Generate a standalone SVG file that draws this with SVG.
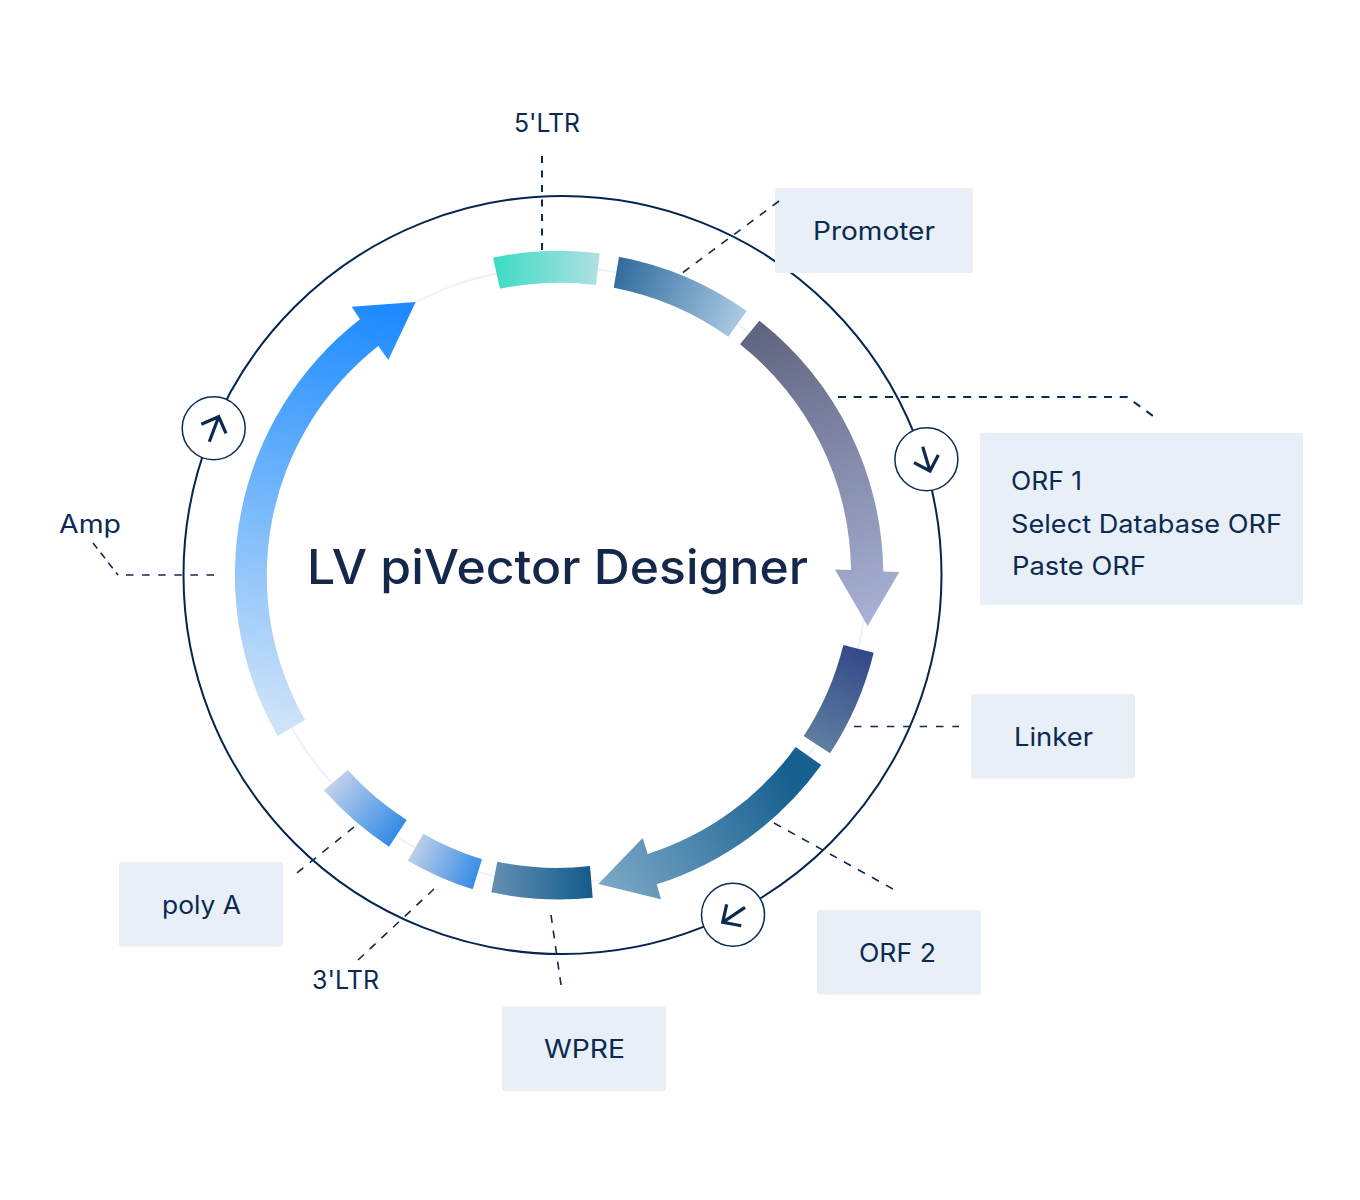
<svg xmlns="http://www.w3.org/2000/svg" width="1360" height="1200" viewBox="0 0 1360 1200">
<style>
.lbl{font-family:"Inter","Open Sans","Liberation Sans",sans-serif;font-size:25px;font-weight:400;fill:#0b2a52}
.title{font-family:"Inter","Open Sans","Liberation Sans",sans-serif;font-size:48px;font-weight:500;fill:#14284b}
.box{fill:#e9eff6}
.lead{fill:none;stroke:#0b2a52;stroke-width:1.6;stroke-dasharray:8 8}
.thin{stroke-width:1.3}
.bold{stroke-width:2}
.ring{fill:none;stroke:#ebf2fb;stroke-width:2}
.outer{fill:none;stroke:#03254f;stroke-width:2}
.badge{fill:#fff;stroke:#0b2f55;stroke-width:1.5}
.glyph{fill:none;stroke:#0b2a4f;stroke-width:3.2}
</style>
<defs>
<linearGradient id="gLtr5" gradientUnits="userSpaceOnUse" x1="493" y1="270" x2="600" y2="270"><stop offset="0" stop-color="#3bdcc5"/><stop offset="1" stop-color="#b0e0e2"/></linearGradient>
<linearGradient id="gProm" gradientUnits="userSpaceOnUse" x1="614" y1="270" x2="747" y2="320"><stop offset="0" stop-color="#2f6a9c"/><stop offset="1" stop-color="#aecde6"/></linearGradient>
<linearGradient id="gOrf1" gradientUnits="userSpaceOnUse" x1="750" y1="330" x2="868" y2="626"><stop offset="0" stop-color="#5f6480"/><stop offset="1" stop-color="#a9b2d6"/></linearGradient>
<linearGradient id="gLink" gradientUnits="userSpaceOnUse" x1="860" y1="648" x2="815" y2="745"><stop offset="0" stop-color="#334889"/><stop offset="1" stop-color="#5e7fa0"/></linearGradient>
<linearGradient id="gOrf2" gradientUnits="userSpaceOnUse" x1="790" y1="780" x2="598" y2="884"><stop offset="0" stop-color="#176090"/><stop offset="1" stop-color="#7da9c8"/></linearGradient>
<linearGradient id="gWpre" gradientUnits="userSpaceOnUse" x1="491" y1="880" x2="593" y2="880"><stop offset="0" stop-color="#6590b3"/><stop offset="1" stop-color="#125b8c"/></linearGradient>
<linearGradient id="gLtr3" gradientUnits="userSpaceOnUse" x1="410" y1="845" x2="480" y2="875"><stop offset="0" stop-color="#c6d3ea"/><stop offset="1" stop-color="#338be5"/></linearGradient>
<linearGradient id="gPoly" gradientUnits="userSpaceOnUse" x1="330" y1="775" x2="400" y2="835"><stop offset="0" stop-color="#cbd6ec"/><stop offset="1" stop-color="#2f89e5"/></linearGradient>
<linearGradient id="gAmp" gradientUnits="userSpaceOnUse" x1="385" y1="310" x2="290" y2="730"><stop offset="0" stop-color="#1d8bff"/><stop offset="1" stop-color="#d0e4f8"/></linearGradient>
</defs>
<rect width="1360" height="1200" fill="#fff"/>
<circle class="outer" cx="562.5" cy="575" r="379"/>
<circle class="ring" cx="559" cy="575" r="308"/>
<g id="seg-5ltr"><path fill="url(#gLtr5)" d="M493 257.7A324 324 0 0 1 599.7 253.3L596 285A292 292 0 0 0 500 288.7Z"/></g>
<g id="seg-promoter"><path fill="url(#gProm)" d="M619 256.7A324 324 0 0 1 746.7 311L728.3 336.7A292 292 0 0 0 613.7 287.7Z"/></g>
<g id="seg-orf1"><path fill="url(#gOrf1)" d="M759.3 320.7A324 324 0 0 1 883.3 571.5L899.3 572L867.7 626L835 569.5L851 570A292 292 0 0 0 740 344.3Z"/></g>
<g id="seg-linker"><path fill="url(#gLink)" d="M873.7 652.7A324 324 0 0 1 830 753.3L803.7 736A292 292 0 0 0 843.3 645Z"/></g>
<g id="seg-orf2"><path fill="url(#gOrf2)" d="M821.3 765A324 324 0 0 1 656.7 884.3L661 899.3L598.3 884L642.7 838L647.7 854A292 292 0 0 0 795.7 747Z"/></g>
<g id="seg-wpre"><path fill="url(#gWpre)" d="M592.7 897.7A324 324 0 0 1 491.3 892.3L497.3 861.7A292 292 0 0 0 590 866Z"/></g>
<g id="seg-3ltr"><path fill="url(#gLtr3)" d="M472.7 889.3A324 324 0 0 1 407.7 860.7L423.3 833.7A292 292 0 0 0 482 859.3Z"/></g>
<g id="seg-polya"><path fill="url(#gPoly)" d="M389 846.7A324 324 0 0 1 324 790.3L347.7 770A292 292 0 0 0 406.7 820Z"/></g>
<g id="seg-amp"><path fill="url(#gAmp)" d="M277.7 736A324 324 0 0 1 360 319.3L351.7 306.7L415.7 302L388.3 360L378.3 346A292 292 0 0 0 305 720Z"/></g>
<g id="dir-1"><circle class="badge" cx="213.7" cy="428.3" r="31.5"/><path class="glyph" d="M209.3 441.7L218.7 416.7M201.3 424.3L218.7 416.7L226 433.3"/></g>
<g id="dir-2"><circle class="badge" cx="926.4" cy="459.2" r="31.5"/><path class="glyph" d="M922.7 446.7L930 471M914 462.7L930 471L938.3 455"/></g>
<g id="dir-3"><circle class="badge" cx="733" cy="914.7" r="31.5"/><path class="glyph" d="M745 907.3L722.7 922.3M726.7 904.3L722.7 922.3L741.3 925.7"/></g>
<g id="title"><text class="title" x="307" y="584" textLength="501" lengthAdjust="spacingAndGlyphs">LV piVector Designer</text></g>
<g id="node-5ltr"><text class="lbl" x="514" y="132" textLength="66" lengthAdjust="spacingAndGlyphs">5'LTR</text></g>
<g id="node-promoter"><rect class="box" x="775" y="188" width="198" height="85" rx="2"/><text class="lbl" x="813" y="240" textLength="122" lengthAdjust="spacingAndGlyphs">Promoter</text></g>
<g id="node-orf1"><rect class="box" x="980" y="433" width="323" height="172" rx="2"/><text class="lbl" x="1011" y="490" textLength="71" lengthAdjust="spacingAndGlyphs">ORF 1</text><text class="lbl" x="1011" y="533" textLength="271" lengthAdjust="spacingAndGlyphs">Select Database ORF</text><text class="lbl" x="1012" y="575" textLength="134" lengthAdjust="spacingAndGlyphs">Paste ORF</text></g>
<g id="node-linker"><rect class="box" x="971" y="694" width="164" height="84.500" rx="2"/><text class="lbl" x="1014" y="746" textLength="79" lengthAdjust="spacingAndGlyphs">Linker</text></g>
<g id="node-orf2"><rect class="box" x="817" y="910" width="164" height="84.500" rx="2"/><text class="lbl" x="859" y="962" textLength="77" lengthAdjust="spacingAndGlyphs">ORF 2</text></g>
<g id="node-wpre"><rect class="box" x="502" y="1006.500" width="164" height="84.500" rx="2"/><text class="lbl" x="544" y="1058" textLength="81" lengthAdjust="spacingAndGlyphs">WPRE</text></g>
<g id="node-polya"><rect class="box" x="119" y="862" width="164" height="84.500" rx="2"/><text class="lbl" x="162" y="914" textLength="79" lengthAdjust="spacingAndGlyphs">poly A</text></g>
<g id="node-3ltr"><text class="lbl" x="312" y="989" textLength="67" lengthAdjust="spacingAndGlyphs">3'LTR</text></g>
<g id="node-amp"><text class="lbl" x="59" y="533" textLength="62" lengthAdjust="spacingAndGlyphs">Amp</text></g>
<g id="connectors">
<path class="lead bold" style="stroke-dasharray:7 7.5" d="M542 156V250"/>
<path class="lead" style="stroke-dasharray:8 7.96" d="M683 272.5L779 201"/>
<path class="lead bold" style="stroke-dasharray:8 7.65" d="M838 397H1127L1153 416"/>
<path class="lead thin" style="stroke-dasharray:7.500 8.900" d="M854 726.5H959"/>
<path class="lead" d="M774 823L893 889"/>
<path class="lead" style="stroke-dasharray:8 7.7" d="M551 915L561 985"/>
<path class="lead" d="M434 889L358 960"/>
<path class="lead" style="stroke-dasharray:8 8.3" d="M354 827L297 873"/>
<path class="lead" style="stroke-dasharray:7 5.500" d="M93 543L118 575"/>
<path class="lead thin" style="stroke-dasharray:7.500 8.600" d="M126 575H214"/>
</g>
</svg>
